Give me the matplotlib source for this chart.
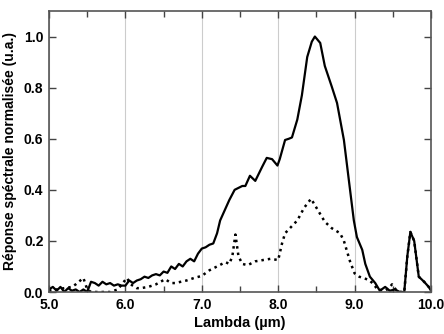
#---Import useful libraries---
import numpy as np
import matplotlib.pyplot as plt
from matplotlib.ticker import MultipleLocator

plt.rcParams['font.family'] = ['Liberation Sans', 'DejaVu Sans']

#---Data---
lam_solid = [5.0, 5.05, 5.1, 5.15, 5.2, 5.25, 5.3, 5.35, 5.4, 5.45, 5.5,
             5.55, 5.6, 5.65, 5.7, 5.75, 5.8, 5.85, 5.9, 5.95, 6.0,
             6.05, 6.1, 6.15, 6.2, 6.25, 6.3, 6.35, 6.4, 6.45, 6.5,
             6.55, 6.6, 6.65, 6.7, 6.75, 6.8, 6.85, 6.9, 6.95, 7.0,
             7.05, 7.1, 7.15, 7.2, 7.24, 7.3, 7.36, 7.43, 7.53, 7.57,
             7.63, 7.70, 7.79, 7.85, 7.92, 7.99, 8.02, 8.09, 8.14, 8.18,
             8.25, 8.31, 8.38, 8.44, 8.48, 8.55, 8.61, 8.70, 8.77, 8.86,
             8.93, 8.99, 9.03, 9.10, 9.14, 9.20, 9.27, 9.33, 9.40, 9.46,
             9.53, 9.59, 9.65, 9.69, 9.73, 9.78, 9.84, 9.91, 9.97, 10.0]
resp_solid = [0.01, 0.02, 0.005, 0.02, 0.0, 0.015, 0.005, 0.01, 0.0, 0.01, 0.0,
              0.04, 0.035, 0.025, 0.04, 0.03, 0.035, 0.025, 0.03, 0.025, 0.025,
              0.045, 0.035, 0.045, 0.05, 0.06, 0.055, 0.065, 0.07, 0.065, 0.08,
              0.075, 0.10, 0.09, 0.11, 0.10, 0.12, 0.13, 0.12, 0.15, 0.17,
              0.175, 0.185, 0.19, 0.23, 0.28, 0.32, 0.36, 0.40, 0.415, 0.415,
              0.455, 0.435, 0.49, 0.525, 0.52, 0.495, 0.52, 0.595, 0.60, 0.605,
              0.675, 0.77, 0.92, 0.98, 1.0, 0.975, 0.885, 0.805, 0.74, 0.595,
              0.425, 0.28, 0.215, 0.165, 0.11, 0.06, 0.035, 0.005, 0.02, 0.005,
              0.01, 0.0, 0.0, 0.14, 0.235, 0.20, 0.06, 0.04, 0.02, 0.005]

lam_dot = [5.0, 5.1, 5.2, 5.3, 5.35, 5.45, 5.5, 5.55, 5.6, 5.7, 5.8, 5.9,
           6.02, 6.07, 6.15, 6.2, 6.3, 6.4, 6.52, 6.6, 6.65, 6.8, 6.9, 7.0,
           7.1, 7.2, 7.31, 7.36, 7.4, 7.44, 7.48, 7.53, 7.6, 7.7, 7.8, 7.9,
           8.0, 8.05, 8.09, 8.25, 8.34, 8.43, 8.48, 8.61, 8.70, 8.81, 8.86,
           8.94, 9.0, 9.06, 9.19, 9.25, 9.3, 9.4, 9.45, 9.49, 9.55, 9.6,
           9.65, 9.69, 9.73, 9.78, 9.84, 9.91, 9.97, 10.0]
resp_dot = [0.005, 0.01, 0.015, 0.02, 0.03, 0.055, 0.01, 0.0, 0.0, 0.0, 0.0, 0.01,
            0.055, 0.03, 0.015, 0.015, 0.02, 0.03, 0.05, 0.035, 0.035, 0.045, 0.055, 0.063,
            0.085, 0.10, 0.117, 0.11, 0.14, 0.225, 0.14, 0.11, 0.105, 0.12, 0.125, 0.13,
            0.125, 0.19, 0.23, 0.28, 0.33, 0.365, 0.34, 0.275, 0.25, 0.23, 0.20,
            0.12, 0.073, 0.06, 0.047, 0.03, 0.01, 0.005, 0.015, 0.03, 0.005, 0.0,
            0.0, 0.14, 0.235, 0.20, 0.06, 0.04, 0.02, 0.005]

xticks = [5.0, 6.0, 7.0, 8.0, 9.0, 10.0]
yticks = [0.0, 0.2, 0.4, 0.6, 0.8, 1.0]

#---Plot---
fig = plt.figure(figsize=(4.44, 3.34), dpi=100)
ax = fig.add_axes([49/444, 1 - 292/334, 382/444, 281/334])

ax.plot(lam_solid, resp_solid, color='black', lw=1.6)
ax.plot(lam_dot, resp_dot, color='black', lw=1.8, linestyle=(0, (1, 1.6)))

ax.set_xlim(5.0, 10.0)
ax.set_ylim(0, 1.1)
ax.set_xticks(xticks)
ax.set_xticklabels(['%.1f' % t for t in xticks])
ax.set_yticks(yticks)
ax.set_yticklabels(['%.1f' % t for t in yticks])
ax.xaxis.set_minor_locator(MultipleLocator(0.5))
ax.grid(axis='x', which='major', color='#cccccc', lw=0.8)

ax.tick_params(which='both', direction='in', top=True, right=True,
               color='#444444', width=1.0, labelsize=10)
ax.tick_params(axis='x', pad=4)
ax.tick_params(axis='y', pad=4)
ax.tick_params(which='major', length=5)
ax.tick_params(which='minor', length=4)
for lab in ax.get_xticklabels() + ax.get_yticklabels():
    lab.set_fontweight('bold')
for s in ax.spines.values():
    s.set_color('#555555')
    s.set_linewidth(1.2)

ax.set_xlabel("Lambda (µm)", fontsize=10.5, fontweight='bold', labelpad=3)
ax.set_ylabel("Réponse spéctrale normalisée (u.a.)", fontsize=10,
              fontweight='bold', labelpad=5)

fig.savefig("out.png", dpi=100)
